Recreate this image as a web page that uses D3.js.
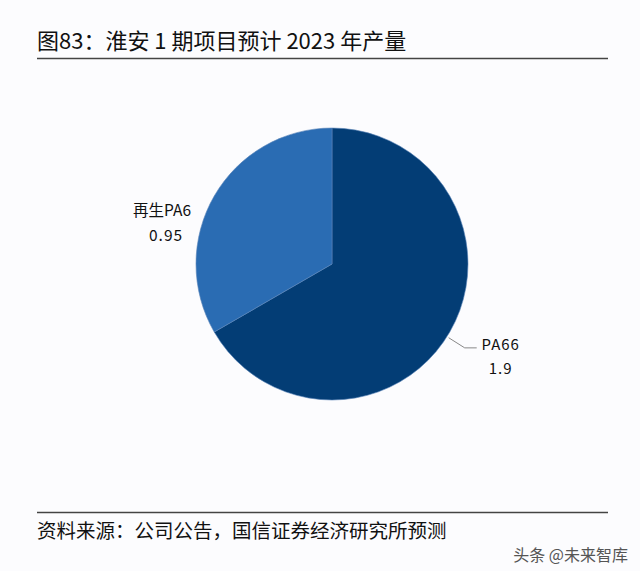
<!DOCTYPE html>
<meta charset="utf-8" />
<script src="https://d3js.org/d3.v7.js"></script>
<style>
  body { margin: 0; background: #fcfcfe; }
  text { font-family: "Noto Sans CJK SC", "Noto Sans", sans-serif; }
</style>
<div id="my_dataviz"></div>
<script>
  // data
  const categories = ["PA66", "再生PA6"];
  const values = [1.9, 0.95];
  const valueLabels = ["1.9", "0.95"];
  const colors = ["#033d75", "#2a6cb3"];

  const width = 640,
    height = 571;
  const cx = 332,
    cy = 264,
    radius = 136;

  const svg = d3
    .select("#my_dataviz")
    .append("svg")
    .attr("width", width)
    .attr("height", height);

  svg.append("rect").attr("width", width).attr("height", height).attr("fill", "#fcfcfe");

  // title + rule
  svg
    .append("text")
    .attr("x", 37)
    .attr("y", 49)
    .style("font-size", "22px")
    .style("fill", "#111")
    .text("图83：淮安 1 期项目预计 2023 年产量");

  svg
    .append("line")
    .attr("x1", 37)
    .attr("x2", 608)
    .attr("y1", 58.5)
    .attr("y2", 58.5)
    .attr("stroke", "#444")
    .attr("stroke-width", 1.5);

  const data = categories.map((c, i) => ({ name: c, value: values[i], label: valueLabels[i], color: colors[i] }));

  const pie = d3.pie().sort(null).value((d) => d.value);
  const arc = d3.arc().innerRadius(0).outerRadius(radius);
  const arcs = pie(data);

  const g = svg.append("g").attr("transform", `translate(${cx}, ${cy})`);

  g.selectAll("path")
    .data(arcs)
    .join("path")
    .attr("d", arc)
    .attr("fill", (d) => d.data.color)
    .attr("stroke", "#5a85b8")
    .attr("stroke-width", 0.6);

  // PA66 label with leader line
  const a0 = (arcs[0].startAngle + arcs[0].endAngle) / 2 + 0.04;
  const p1 = [Math.sin(a0) * (radius + 2), -Math.cos(a0) * (radius + 2)];
  const p2 = [Math.sin(a0) * (radius + 21), -Math.cos(a0) * (radius + 21)];
  const p3 = [p2[0] + 12, p2[1]];
  g.append("polyline")
    .attr("points", [p1, p2, p3].map((p) => p.join(",")).join(" "))
    .attr("fill", "none")
    .attr("stroke", "#888")
    .attr("stroke-width", 1);

  const lab0 = g
    .append("text")
    .attr("text-anchor", "middle")
    .style("font-size", "15px")
    .style("fill", "#111")
    .style("letter-spacing", "1px");
  lab0.append("tspan").attr("x", p3[0] + 24).attr("y", p3[1] + 2).text(arcs[0].data.name);
  lab0.append("tspan").attr("x", p3[0] + 24).attr("dy", 24).text(arcs[0].data.label);

  // 再生PA6 label
  const a1 = (arcs[1].startAngle + arcs[1].endAngle) / 2;
  const q = [Math.sin(a1) * (radius + 36), -Math.cos(a1) * (radius + 36)];
  const lab1 = g
    .append("text")
    .attr("text-anchor", "middle")
    .style("font-size", "15.5px")
    .style("fill", "#111");
  lab1.append("tspan").attr("x", q[0] - 21).attr("y", q[1] + 38).text(arcs[1].data.name);
  lab1.append("tspan").attr("x", q[0] - 17).attr("dy", 25).style("letter-spacing", "1px").text(arcs[1].data.label);

  // footer
  svg
    .append("line")
    .attr("x1", 37)
    .attr("x2", 608)
    .attr("y1", 512.5)
    .attr("y2", 512.5)
    .attr("stroke", "#444")
    .attr("stroke-width", 1.5);

  svg
    .append("text")
    .attr("x", 37)
    .attr("y", 538)
    .style("font-size", "19.5px")
    .style("fill", "#111")
    .text("资料来源：公司公告，国信证券经济研究所预测");

  svg
    .append("text")
    .attr("x", 628)
    .attr("y", 561)
    .attr("text-anchor", "end")
    .style("font-size", "16px")
    .style("fill", "#555")
    .text("头条 @未来智库");
</script>
